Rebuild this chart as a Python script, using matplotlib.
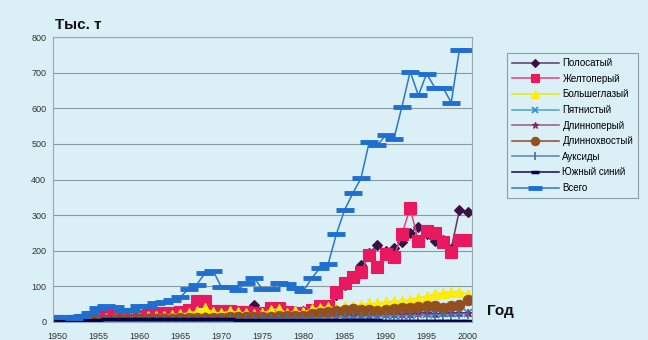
import matplotlib
matplotlib.use('Agg')
import matplotlib.pyplot as plt

plt.rcParams['font.family'] = ['Liberation Sans', 'DejaVu Sans']

# Улов тунцов по годам, тыс. т
years = list(range(1950, 2001))

polosaty = [5, 5, 6, 6, 8, 8, 9, 9, 10, 10, 10, 11, 12, 12, 13, 14, 15, 16, 18, 20,
            22, 22, 24, 30, 48, 26, 25, 28, 30, 30, 32, 35, 40, 45, 75, 105, 130, 160, 195, 215,
            200, 207, 224, 250, 268, 248, 226, 230, 206, 314, 308]
zheltopery = [3, 3, 4, 6, 14, 18, 20, 18, 16, 15, 18, 22, 24, 24, 24, 28, 34, 60, 60, 32,
              30, 30, 28, 27, 26, 24, 40, 40, 28, 26, 26, 35, 44, 46, 84, 109, 126, 140, 188, 154,
              190, 182, 248, 319, 228, 255, 250, 224, 196, 230, 230]
bolsheglazy = [4, 4, 5, 6, 8, 10, 12, 12, 12, 14, 15, 16, 18, 18, 20, 22, 25, 30, 38, 28,
               25, 30, 28, 25, 22, 24, 34, 36, 25, 30, 28, 36, 40, 42, 40, 44, 46, 48, 52, 52,
               55, 58, 60, 62, 68, 72, 78, 82, 85, 84, 78]
pyatnisty = [2, 2, 3, 3, 3, 4, 4, 4, 5, 5, 5, 6, 6, 6, 7, 7, 8, 8, 9, 9,
             9, 10, 10, 10, 11, 11, 12, 12, 12, 13, 13, 14, 14, 15, 15, 16, 16, 17, 18, 18,
             19, 20, 20, 21, 22, 22, 23, 24, 24, 25, 25]
dlinnopery = [6, 8, 9, 10, 11, 12, 12, 13, 13, 14, 14, 14, 15, 14, 13, 14, 14, 15, 16, 15,
              14, 15, 16, 16, 15, 15, 16, 16, 16, 17, 17, 18, 18, 19, 19, 20, 20, 21, 21, 22,
              22, 22, 23, 23, 24, 24, 23, 24, 24, 25, 26]
dlinnokhvosty = [3, 3, 4, 4, 5, 5, 5, 6, 6, 7, 7, 8, 8, 9, 9, 10, 10, 11, 12, 12,
                 12, 13, 13, 14, 14, 14, 15, 16, 16, 17, 18, 22, 25, 28, 32, 35, 36, 35, 34, 32,
                 35, 36, 38, 40, 42, 46, 44, 40, 44, 48, 62]
auksidy = [1, 1, 1, 2, 2, 2, 2, 3, 3, 3, 3, 4, 4, 4, 5, 5, 5, 6, 6, 6,
           7, 7, 7, 8, 8, 8, 9, 9, 10, 10, 10, 11, 12, 12, 13, 13, 14, 14, 15, 15,
           16, 17, 17, 18, 18, 19, 20, 20, 21, 22, 22]
yuzhny_siny = [5, 5, 5, 6, 6, 6, 7, 7, 7, 8, 8, 8, 9, 9, 9, 8, 8, 8, 7, 7,
               7, 7, 6, 6, 6, 6, 6, 5, 5, 5, 5, 5, 5, 5, 5, 5, 5, 5, 5, 5,
               4, 4, 4, 4, 4, 4, 4, 4, 4, 4, 4]
vsego = [14, 14, 12, 16, 25, 38, 44, 42, 34, 34, 44, 46, 53, 56, 62, 70, 93, 105, 137, 143,
         98, 98, 90, 110, 123, 92, 92, 109, 106, 95, 87, 123, 151, 162, 246, 314, 361, 403, 504, 496,
         524, 513, 605, 703, 636, 697, 658, 658, 616, 765, 765]

year_ticks = [1950, 1955, 1960, 1965, 1970, 1975, 1980, 1985, 1990, 1995, 2000]

bg = '#DAEFF6'

fig = plt.figure(figsize=(6.48, 3.4), dpi=100, facecolor=bg)
ax = fig.add_axes([0.082, 0.053, 0.646, 0.838], facecolor=bg)

# name, values, line colour, marker, marker size, marker colour, edge width
series = [
    ('Полосатый', polosaty, '#5a3a6a', 'D', 5.5, '#3a1245', 0.8),
    ('Желтоперый', zheltopery, '#e0457a', 's', 8, '#e8195e', 0.8),
    ('Большеглазый', bolsheglazy, '#f2e600', '^', 6.5, '#ffee00', 0.8),
    ('Пятнистый', pyatnisty, '#4aa3d6', 'x', 6, '#2a8fd0', 1.2),
    ('Длинноперый', dlinnopery, '#9a5a7a', '*', 6, '#7a2a5a', 0.8),
    ('Длиннохвостый', dlinnokhvosty, '#8a4a2a', 'o', 7.5, '#93501e', 0.8),
    ('Ауксиды', auksidy, '#5d7fb5', '|', 7, '#4a6aa0', 1.2),
    ('Южный синий', yuzhny_siny, '#0a0a5a', '_', 7, '#000050', 2.5),
    ('Всего', vsego, '#2a78c8', '_', 13, '#1f6fd0', 3.5),
]

for name, vals, lc, mk, ms, mc, mew in series:
    ax.plot(years, vals, color=lc, lw=1.1, marker=mk, markersize=ms,
            markerfacecolor=mc, markeredgecolor=mc, markeredgewidth=mew, label=name)

ax.set_xlim(1949.5, 2000.5)
ax.set_ylim(0, 800)
ax.set_yticks(range(0, 801, 100))
ax.set_xticks(year_ticks)
ax.tick_params(axis='both', labelsize=6.5, colors='#333333', length=0)
ax.tick_params(axis='x', pad=7)
ax.tick_params(axis='y', pad=5)
ax.yaxis.grid(True, color='#8a9aa2', lw=0.8)
ax.set_axisbelow(True)
for side in ['top', 'right', 'left', 'bottom']:
    ax.spines[side].set_color('#9aa8ae')
    ax.spines[side].set_linewidth(0.8)

fig.text(0.085, 0.915, 'Тыс. т', fontsize=11, fontweight='bold', color='#111111')
fig.text(0.752, 0.075, 'Год', fontsize=11, fontweight='bold', color='#111111')

leg = ax.legend(loc='upper left', bbox_to_anchor=(0.775, 0.858), bbox_transform=fig.transFigure,
                fontsize=7, frameon=True, fancybox=False, handlelength=4.8,
                labelspacing=0.58, borderpad=0.5, handletextpad=0.4, markerscale=0.8)
leg.get_frame().set_facecolor(bg)
leg.get_frame().set_edgecolor('#7a8a90')
leg.get_frame().set_linewidth(0.8)

plt.savefig('out.png', dpi=100, facecolor=bg)
